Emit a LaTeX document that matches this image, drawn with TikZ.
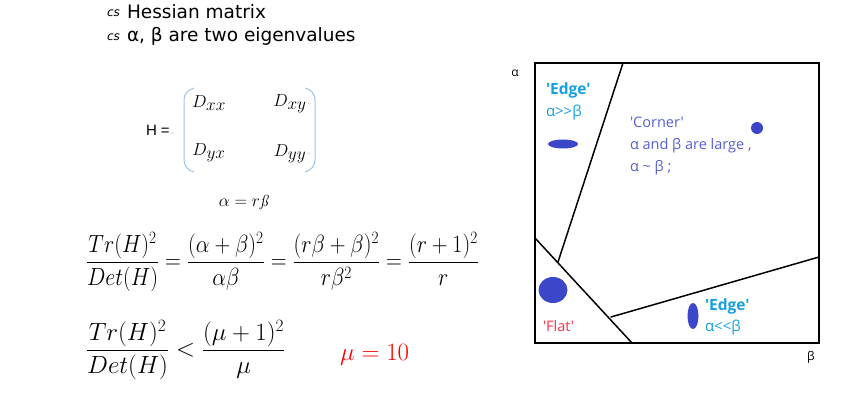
\documentclass[tikz,border=0pt]{standalone}
\usepackage{fontspec}
\usepackage{xcolor}
\usetikzlibrary{positioning}
\newfontfamily\handfont{DejaVu Sans}
\newfontfamily\uifont{Open Sans}
\newfontfamily\arialfont{Liberation Sans}
\newfontfamily\symfont{DejaVu Sans}
\definecolor{edgeblue}{RGB}{20,160,225}
\definecolor{cornerblue}{RGB}{85,95,210}
\definecolor{blobblue}{RGB}{60,70,200}
\definecolor{flatred}{RGB}{250,50,70}
\definecolor{parenblue}{RGB}{160,195,235}

\begin{document}
\begin{tikzpicture}[x=1pt, y=-1pt,
  every node/.style={inner sep=0pt, outer sep=0pt},
  bullet/.style   = {font=\handfont\itshape\fontsize{12}{13}\selectfont, anchor=west},
  hand/.style     = {font=\handfont\fontsize{18.5}{21}\selectfont, anchor=west},
  entry/.style    = {font=\fontsize{19}{21}\selectfont},
  retmark/.style  = {font=\symfont\fontsize{5}{5}\selectfont, text=gray!45},
  bigeq/.style    = {font=\fontsize{24}{28}\selectfont, anchor=west},
  axislbl/.style  = {font=\uifont\fontsize{12}{13}\selectfont},
  edgetxt/.style  = {font=\uifont\bfseries\fontsize{15.5}{17}\selectfont, text=edgeblue, anchor=west},
  edgerel/.style  = {font=\uifont\fontsize{15}{17}\selectfont, text=edgeblue, anchor=west},
  cornertxt/.style= {font=\uifont\fontsize{14.5}{16}\selectfont, text=cornerblue, anchor=west},
  blob/.style     = {fill=blobblue, draw=none},
  region/.style   = {line width=1.5pt, line cap=round}
]
\useasboundingbox (0,0) rectangle (847,417);

%% BULLETS
\node[bullet] (b1) at (107,13) {cs};
\node[hand]   (t1) at (127,12) {Hessian matrix};
\node[bullet] (b2) at (107,37) {cs};
\node[hand]   (t2) at (127,36) {α, β are two eigenvalues};

%% HESSIAN MATRIX
\node[font=\arialfont\fontsize{15}{17}\selectfont, anchor=west] (Heq) at (146,130) {H =};
\node[retmark, right=1pt of Heq.south east, anchor=south west] (r1) {↵};
\node[entry] (Dxx) at (209,103) {$D_{\textstyle x x}$};
\node[entry] (Dxy) at (290,104) {$D_{\textstyle x y}$};
\node[entry] (Dyx) at (209,153) {$D_{\textstyle y x}$};
\node[entry] (Dyy) at (290,154) {$D_{\textstyle y y}$};
\node[retmark, right=1pt of Dxy.east] (r2) {↵};
\node[retmark, right=1pt of Dyy.east] (r3) {↵};
\draw[parenblue, line width=1pt] (194,88) to[out=195,in=90] (184,100) -- (184,160) to[out=-90,in=165] (194,172);
\draw[parenblue, line width=1pt] (305,88) to[out=-15,in=90] (315,100) -- (315,160) to[out=-90,in=15] (305,172);
\node[font=\fontsize{16}{18}\selectfont] (ratio) at (244,203) {$\alpha = r$\textit{ß}};

%% EQUATIONS
\node[bigeq] (eq1) at (86,262) {\scalebox{0.88}[1]{$\displaystyle \frac{Tr(H)^2}{Det(H)} = \frac{(\alpha+\beta)^2}{\alpha\beta} = \frac{(r\beta+\beta)^2}{r\beta^2} = \frac{(r+1)^2}{r}$}};
\node[bigeq] (eq2) at (86,350) {$\displaystyle \frac{Tr(H)^2}{Det(H)} < \frac{(\mu+1)^2}{\mu}$};
\node[bigeq, text=red] (mu) at (340,355) {$\mu = 10$};

%% REGION PLOT
\coordinate (bl) at (535,343);
\coordinate (tr) at (819,63);
\draw[line width=1.6pt] (bl) rectangle (tr);
\coordinate (l1a) at (623,63);
\coordinate (l1b) at (558,262);
\coordinate (l2a) at (535,238);
\coordinate (l2b) at (632,343);
\coordinate (l3a) at (611,317);
\coordinate (l3b) at (819,257);
\draw[region] (l1a) -- (l1b);
\draw[region] (l2a) -- (l2b);
\draw[region] (l3a) -- (l3b);
\node[axislbl] (alab) at (515,73) {α};
\node[axislbl] (blab) at (811,357) {β};

\fill[blob] (563,144) ellipse [x radius=15, y radius=4.5];
\fill[blob] (757,128) circle [radius=6];
\fill[blob] (553,290) ellipse [x radius=14.5, y radius=13];
\fill[blob] (693,316) ellipse [x radius=5.5, y radius=13];

\node[edgetxt] (edge1) at (546,90) {'Edge'};
\node[edgerel] (rel1)  at (546,113) {α>>β};
\node[cornertxt] (corner) at (630,122) {'Corner'};
\node[cornertxt] (large)  at (630,146) {α and β are large ,};
\node[cornertxt] (approx) at (630,168) {α \textasciitilde{} β ;};
\node[font=\uifont\fontsize{14.5}{16}\selectfont, text=flatred, anchor=west] (flat) at (543,326) {'Flat'};
\node[edgetxt] (edge2) at (705,306) {'Edge'};
\node[edgerel] (rel2)  at (705,328) {α<<β};
\end{tikzpicture}
\end{document}
